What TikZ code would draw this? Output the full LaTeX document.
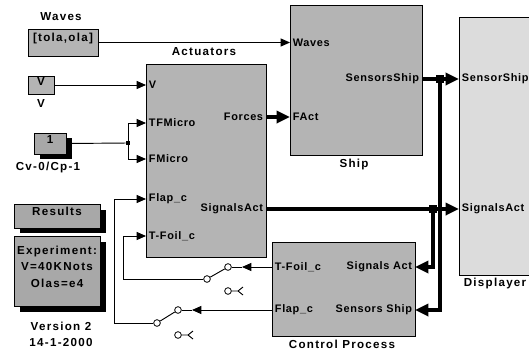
\documentclass[tikz,border=0pt]{standalone}
\usepackage{fontspec}
\newfontfamily\portfont{Liberation Sans}[LetterSpace=6]
\newfontfamily\titlefont{Liberation Sans}[LetterSpace=11]
\usepackage{tikz}
\usetikzlibrary{arrows.meta,positioning,fit}
\definecolor{BlockGray}{HTML}{B4B4B4}
\definecolor{DispGray}{HTML}{DCDCDC}
\definecolor{NoteGray}{HTML}{A8A8A8}

\begin{document}
\begin{tikzpicture}[
    x=0.75pt, y=-0.75pt,
    blk/.style={
      draw=black,
      line width=0.6pt,
      fill=#1,
      inner sep=0pt,
      font=\titlefont\bfseries\fontsize{8.7}{10}\selectfont,
      align=center
    },
    blk/.default=BlockGray,
    shade/.style={fill=black, draw=none, inner sep=0pt},
    port/.style={
      inner sep=2pt,
      font=\portfont\bfseries\fontsize{8.2}{9}\selectfont
    },
    ttl/.style={font=\titlefont\bfseries\fontsize{8.7}{10}\selectfont},
    arr/.style={
      -{Triangle[length=7pt,width=6pt]},
      line width=0.7pt
    },
    bus/.style={
      -{Triangle[length=10pt,width=9pt]},
      line width=2.7pt
    },
    ln/.style={line width=0.7pt},
    contact/.style={circle, draw, fill=white, line width=0.6pt,
      minimum size=5pt, inner sep=0pt},
    junc/.style={fill=black, minimum size=#1, inner sep=0pt},
    junc/.default=3pt
  ]

  \clip (0,0) rectangle (529,350);

  % Sources
  \node[blk, fit={(28,29) (98,56)}] (waves) {[tola,ola]};
  \node[ttl] (waves-t) at (61,17) {Waves};
  \node[blk, fit={(28,76) (54,94)}] (vsrc) {V};
  \node[ttl] (vsrc-t) at (41,104) {V};
  \node[shade, fit={(40,138) (72,159)}] (cvcp-sh) {};
  \node[blk=NoteGray, fit={(34,133) (66,154)}] (cvcp) {1};
  \node[ttl] (cvcp-t) at (48,167) {Cv-0/Cp-1};

  % Notes
  \node[shade, fit={(20,210) (106,233)}] (res-sh) {};
  \node[blk=NoteGray, fit={(14,204) (100,228)}] (res) {Results};
  \node[shade, fit={(20,242) (106,312)}] (expt-sh) {};
  \node[blk=NoteGray, fit={(14,236) (100,306)}] (expt)
    {Experiment:\\[2.5pt]V=40KNots\\[2.5pt]Olas=e4};
  \node[ttl] (ver) at (61,326) {Version 2};
  \node[ttl] (date) at (61,343) {14-1-2000};

  % Actuators
  \node[blk, fit={(146,64) (266,257)}] (act) {};
  \node[ttl] (act-t) at (204,52) {Actuators};
  \node[port, anchor=west] (act-v)   at (146,85)  {V};
  \node[port, anchor=west] (act-tfm) at (146,123) {TFMicro};
  \node[port, anchor=west] (act-fm)  at (146,159) {FMicro};
  \node[port, anchor=west] (act-fl)  at (146,199) {Flap\_c};
  \node[port, anchor=west] (act-tf)  at (146,236) {T-Foil\_c};
  \node[port, anchor=east] (act-fo)  at (266,117) {Forces};
  \node[port, anchor=east] (act-sa)  at (266,209) {SignalsAct};

  % Ship
  \node[blk, fit={(290,5) (422,155)}] (ship) {};
  \node[ttl] (ship-t) at (354,164) {Ship};
  \node[port, anchor=west] (ship-wv) at (290,42.5) {Waves};
  \node[port, anchor=west] (ship-fa) at (290,117)  {FAct};
  \node[port, anchor=east] (ship-ss) at (422,79)   {SensorsShip};

  % Displayer
  \node[blk=DispGray, fit={(459,17) (545,275)}] (disp) {};
  \node[ttl] (disp-t) at (495,283) {Displayer};
  \node[port, anchor=west] (disp-ss) at (459,79)  {SensorShip};
  \node[port, anchor=west] (disp-sa) at (459,209) {SignalsAct};

  % Control Process
  \node[blk, fit={(272,242) (415,336)}] (ctrl) {};
  \node[ttl] (ctrl-t) at (342,344) {Control Process};
  \node[port, anchor=west] (ctrl-tf) at (272,267) {T-Foil\_c};
  \node[port, anchor=west] (ctrl-fl) at (272,310) {Flap\_c};
  \node[port, anchor=east] (ctrl-sa) at (415,267) {Signals Act};
  \node[port, anchor=east] (ctrl-ss) at (415,310) {Sensors Ship};

  % Switches
  \node[contact] (sw1-a) at (228,267) {};
  \node[contact] (sw1-b) at (207,279) {};
  \node[contact] (sw1-c) at (228,291) {};
  \coordinate (sw1-in) at (242,267);
  \coordinate (sw1-f)  at (238,291);
  \node[contact] (sw2-a) at (178,310) {};
  \node[contact] (sw2-b) at (157,323) {};
  \node[contact] (sw2-c) at (178,335) {};
  \coordinate (sw2-in) at (192,310);
  \coordinate (sw2-f)  at (188,335);

  % Junctions
  \node[junc] (j0) at (128,143) {};
  \node[junc=6pt] (j1) at (440,79) {};
  \node[junc=6pt] (j2) at (433,209) {};

  % Thin lines
  \draw[arr] (waves.east) -- (ship-wv.west);
  \draw[arr] (vsrc.east) -- (act-v.west);
  \draw[ln]  (cvcp.east) -- (j0);
  \draw[arr] (j0) |- (act-tfm.west);
  \draw[arr] (j0) |- (act-fm.west);
  \draw[arr] (ctrl-tf.west) -- (sw1-in);
  \draw[ln]  (sw1-in) -- (sw1-a);
  \draw[ln]  (sw1-a) -- (sw1-b);
  \draw[ln]  (sw1-c) -- (sw1-f) -- ++(5,-4) (sw1-f) -- ++(5,4);
  \draw[arr] (sw1-b.west) -- ++(-80,0) |- (act-tf.west);
  \draw[arr] (ctrl-fl.west) -- (sw2-in);
  \draw[ln]  (sw2-in) -- (sw2-a);
  \draw[ln]  (sw2-a) -- (sw2-b);
  \draw[ln]  (sw2-c) -- (sw2-f) -- ++(5,-4) (sw2-f) -- ++(5,4);
  \draw[arr] (sw2-b.west) -- ++(-39,0) |- (act-fl.west);

  % Thick lines
  \draw[bus] (act-fo.east) -- (ship-fa.west);
  \draw[bus] (ship-ss.east) -- (disp-ss.west);
  \draw[bus] (act-sa.east) -- (disp-sa.west);
  \draw[bus] (j2) |- (ctrl-sa.east);
  \draw[bus] (j1) |- (ctrl-ss.east);

\end{tikzpicture}
\end{document}
